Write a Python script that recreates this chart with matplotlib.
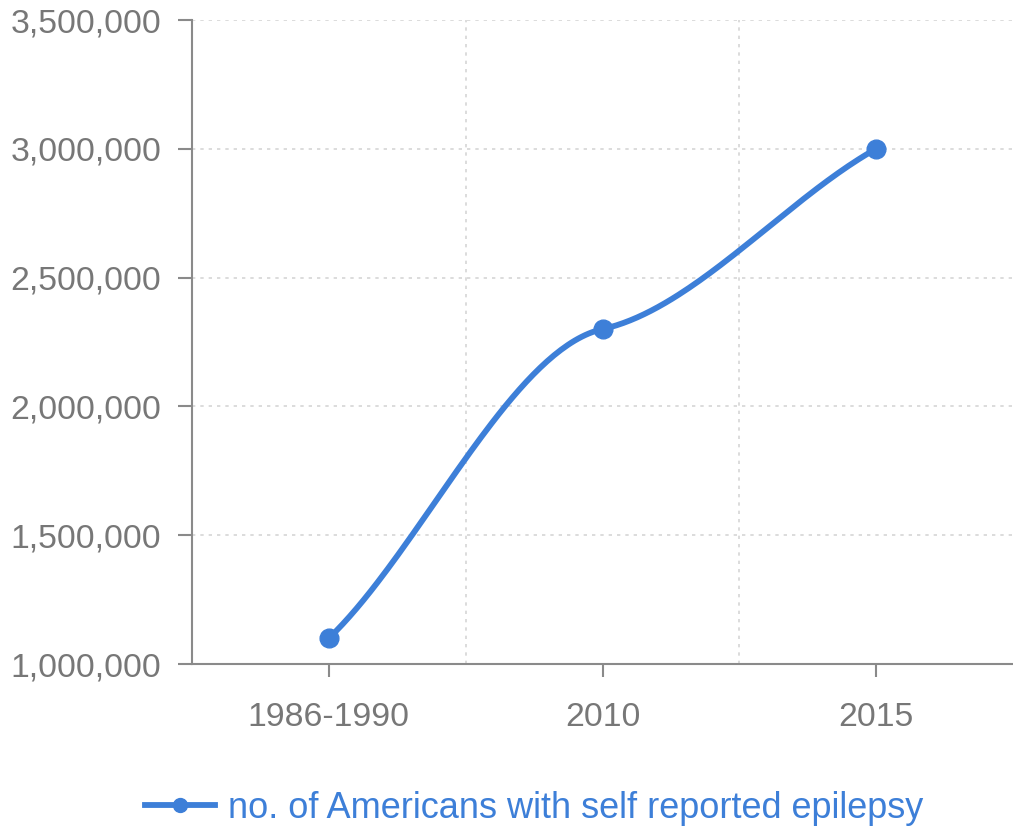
import numpy as np
import matplotlib.pyplot as plt
from matplotlib.lines import Line2D
from matplotlib.ticker import FuncFormatter

plt.rcParams['font.family'] = ['Liberation Sans', 'DejaVu Sans']

categories = ['1986-1990', '2010', '2015']
values = [1100000, 2300000, 3000000]
series_name = 'no. of Americans with self reported epilepsy'

LINE = '#3d7fd8'
GREY = '#777777'


def smooth_curve(ys, k_mid=0.25, k_end=0.85, n=80):
    # cubic hermite through the points; tight tangents at inner points
    ys = np.asarray(ys, float)
    m = np.zeros_like(ys)
    m[0] = k_end * (ys[1] - ys[0])
    m[-1] = k_end * (ys[-1] - ys[-2])
    for i in range(1, len(ys) - 1):
        m[i] = k_mid * (ys[i + 1] - ys[i - 1]) / 2
    xs_out, ys_out = [], []
    for i in range(len(ys) - 1):
        t = np.linspace(0, 1, n)
        h00 = 2 * t**3 - 3 * t**2 + 1
        h10 = t**3 - 2 * t**2 + t
        h01 = -2 * t**3 + 3 * t**2
        h11 = t**3 - t**2
        xs_out.append(i + t)
        ys_out.append(h00 * ys[i] + h10 * m[i] + h01 * ys[i + 1] + h11 * m[i + 1])
    return np.concatenate(xs_out), np.concatenate(ys_out)


fig = plt.figure(figsize=(10.13, 8.30), dpi=100)
ax = fig.add_axes([192 / 1013, 1 - 664 / 830, 1 - 192 / 1013, (664 - 20) / 830])

x = np.arange(len(categories))
cx, cy = smooth_curve(values)
ax.plot(cx, cy, color=LINE, lw=4.2, solid_capstyle='round', zorder=3)
ax.plot(x, values, 'o', color=LINE, ms=13.5, zorder=4)

ax.set_xlim(-0.5, 2.5)
ax.set_ylim(1000000, 3500000)
ax.set_yticks(np.arange(1000000, 3500001, 500000))
ax.yaxis.set_major_formatter(FuncFormatter(lambda v, p: f'{int(v):,}'))
ax.set_xticks(x)
ax.set_xticklabels(categories)

for s in ['top', 'right']:
    ax.spines[s].set_visible(False)
for s in ['left', 'bottom']:
    ax.spines[s].set_color('#8a8a8a')
    ax.spines[s].set_linewidth(1.5)

ax.tick_params(axis='y', length=10, width=1.5, color='#8a8a8a', pad=12,
               labelsize=24.3, labelcolor=GREY)
ax.tick_params(axis='x', length=9, width=1.5, color='#8a8a8a', pad=18,
               labelsize=24.3, labelcolor=GREY)

grid_kw = dict(color='#d5d5d5', lw=1.2, ls=(0, (2, 3)), zorder=0)
for yv in ax.get_yticks()[1:]:
    ax.axhline(yv, **grid_kw)
for xv in [0.5, 1.5]:
    ax.axvline(xv, **grid_kw)

handle = Line2D([], [], color=LINE, lw=4.2, marker='o', ms=10)
leg = fig.legend([handle], [series_name], loc='center left',
                 bbox_to_anchor=(145 / 1013, 1 - 808 / 830), frameon=False,
                 fontsize=26, handlelength=1.94, handletextpad=0.36,
                 borderpad=0, borderaxespad=0)
for t in leg.get_texts():
    t.set_color(LINE)

fig.savefig('out.png', dpi=100)
